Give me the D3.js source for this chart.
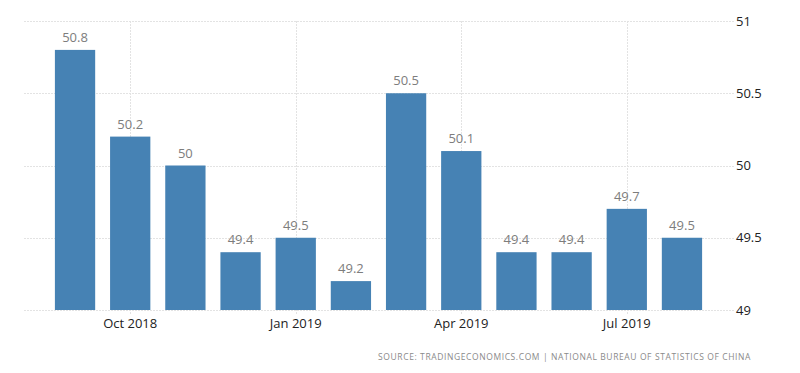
<!DOCTYPE html>
<html>
<head>
<meta charset="utf-8">
<script src="https://cdn.jsdelivr.net/npm/d3@7"></script>
<style>
  body { margin: 0; background: #fff; }
  svg { display: block; font-family: "Open Sans", "DejaVu Sans", sans-serif; }
  .grid line { stroke: #e3e3e3; stroke-width: 1; stroke-dasharray: 2,1; }
  .bar { fill: #4682b4; }
  .val { fill: #7d7d7d; font-size: 13px; text-anchor: middle; }
  .ylab { fill: #222; font-size: 13px; }
  .xlab { fill: #222; font-size: 13px; text-anchor: middle; }
  .src { fill: #8a8a8a; font-size: 8.5px; letter-spacing: 0.6px; text-anchor: end; }
</style>
</head>
<body>
<div class="chart"></div>
<script>
var months = ["Sep 2018", "Oct 2018", "Nov 2018", "Dec 2018", "Jan 2019", "Feb 2019",
              "Mar 2019", "Apr 2019", "May 2019", "Jun 2019", "Jul 2019", "Aug 2019"];
var values = [50.8, 50.2, 50, 49.4, 49.5, 49.2, 50.5, 50.1, 49.4, 49.4, 49.7, 49.5];
var yTicks = [49, 49.5, 50, 50.5, 51];
var xTickLabels = ["Oct 2018", "Jan 2019", "Apr 2019", "Jul 2019"];

var options = { width: 800, height: 373 },
    plot = { left: 24, right: 734, top: 21, bottom: 310 };

var svg = d3.select(".chart").append("svg")
    .attr("width", options.width)
    .attr("height", options.height);

var xScale = d3.scaleBand()
    .domain(months)
    .range([40, 717])
    .paddingInner(0.27)
    .paddingOuter(0.27);

var yScale = d3.scaleLinear()
    .domain([49, 51])
    .range([plot.bottom, plot.top]);

// grid
var grid = svg.append("g").attr("class", "grid");
grid.selectAll(".hline")
  .data(yTicks)
  .enter().append("line")
    .attr("x1", plot.left)
    .attr("x2", plot.right)
    .attr("y1", function(d) { return Math.round(yScale(d)) + 0.5; })
    .attr("y2", function(d) { return Math.round(yScale(d)) + 0.5; });

grid.selectAll(".vline")
  .data(xTickLabels)
  .enter().append("line")
    .attr("x1", function(d) { return Math.round(xScale(d) + xScale.bandwidth() / 2) + 0.5; })
    .attr("x2", function(d) { return Math.round(xScale(d) + xScale.bandwidth() / 2) + 0.5; })
    .attr("y1", plot.top)
    .attr("y2", plot.bottom + 4);

// bars
svg.selectAll(".bar")
  .data(values)
  .enter().append("rect")
    .attr("class", "bar")
    .attr("x", function(d, i) { return xScale(months[i]); })
    .attr("width", xScale.bandwidth())
    .attr("y", function(d) { return yScale(d); })
    .attr("height", function(d) { return yScale(49) - yScale(d); });

svg.selectAll(".val")
  .data(values)
  .enter().append("text")
    .attr("class", "val")
    .attr("x", function(d, i) { return xScale(months[i]) + xScale.bandwidth() / 2; })
    .attr("y", function(d) { return yScale(d) - 8; })
    .text(function(d) { return d; });

// y axis labels on the right
svg.selectAll(".ylab")
  .data(yTicks)
  .enter().append("text")
    .attr("class", "ylab")
    .attr("x", 736)
    .attr("y", function(d) { return yScale(d); })
    .attr("dy", "0.35em")
    .text(function(d) { return d; });

// x axis labels
svg.selectAll(".xlab")
  .data(xTickLabels)
  .enter().append("text")
    .attr("class", "xlab")
    .attr("x", function(d) { return xScale(d) + xScale.bandwidth() / 2; })
    .attr("y", 328)
    .text(function(d) { return d; });

svg.append("text")
    .attr("class", "src")
    .attr("x", 751)
    .attr("y", 360)
    .text("SOURCE: TRADINGECONOMICS.COM | NATIONAL BUREAU OF STATISTICS OF CHINA");
</script>
</body>
</html>
